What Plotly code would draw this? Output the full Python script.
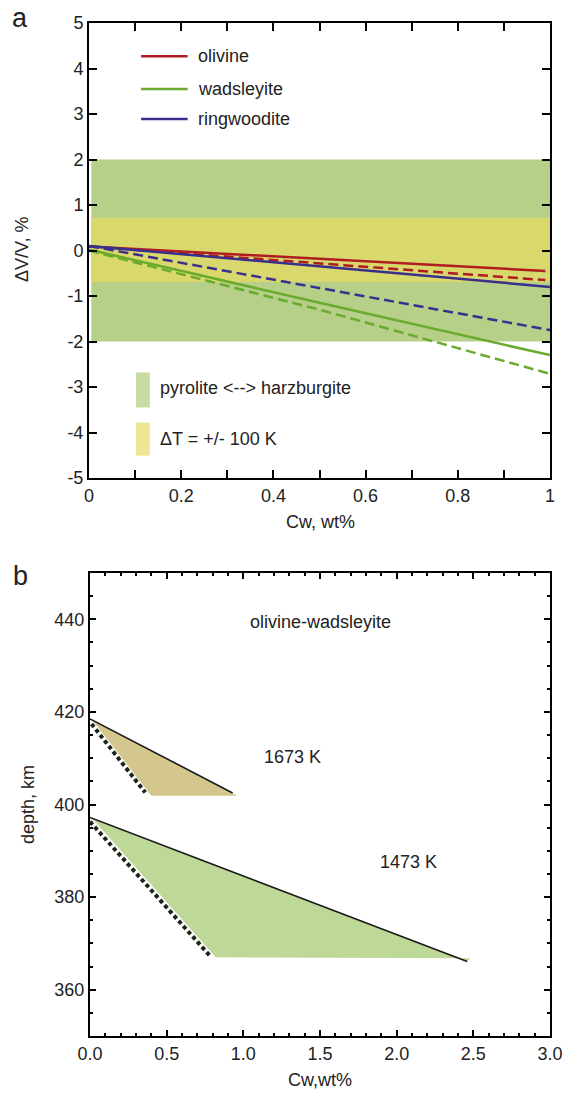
import plotly.graph_objects as go

# ---------------- Panel a data ----------------
cw_olivine = [0.0, 0.5, 0.99]
cw_other = [0.0, 0.5, 1.0]
olivine_solid = [0.09, -0.18, -0.45]
olivine_dash = [0.09, -0.28, -0.65]
wads_solid = [0.02, -1.15, -2.30]
wads_dash = [0.0, -1.30, -2.71]
ring_solid = [0.10, -0.35, -0.80]
ring_dash = [0.10, -0.83, -1.75]

band_pyrolite = [-2.0, 2.0]
band_deltaT = [-0.69, 0.72]

a_xticks = [0.0, 0.1, 0.2, 0.3, 0.4, 0.5, 0.6, 0.7, 0.8, 0.9, 1.0]
a_xticklabels = ["0", "", "0.2", "", "0.4", "", "0.6", "", "0.8", "", "1"]
a_yticks = [5, 4, 3, 2, 1, 0, -1, -2, -3, -4, -5]
a_yticklabels = ["5", "4", "3", "2", "1", "0", "-1", "-2", "-3", "-4", "-5"]

# ---------------- Panel b data ----------------
# 1673 K region
hot_fill_cw = [0.0, 0.93, 0.96, 0.40, 0.03]
hot_fill_depth = [418.5, 402.5, 401.9, 401.9, 417.6]
hot_solid_cw = [0.0, 0.93]
hot_solid_depth = [418.5, 402.5]
hot_dot_cw = [0.01, 0.36]
hot_dot_depth = [417.4, 402.6]
# 1473 K region
cold_fill_cw = [0.0, 2.46, 2.48, 0.82, 0.03]
cold_fill_depth = [397.2, 366.1, 366.8, 367.0, 396.4]
cold_solid_cw = [0.0, 2.46]
cold_solid_depth = [397.2, 366.1]
cold_dot_cw = [0.0, 0.78]
cold_dot_depth = [396.3, 367.4]

b_xticks = [0.0, 0.5, 1.0, 1.5, 2.0, 2.5, 3.0]
b_xticklabels = ["0.0", "0.5", "1.0", "1.5", "2.0", "2.5", "3.0"]
b_yticks = [360, 380, 400, 420, 440]
b_yticklabels = ["360", "380", "400", "420", "440"]

# ---------------- styling ----------------
W, H = 565, 1094
OFF = 0
FONT = "Liberation Sans, Arial, sans-serif"
FS = 18
TXT = "#222222"
RED = "#b01c22"
GREEN = "#6aaa2c"
PURPLE = "#3a2f8c"
BAND_GREEN = "#b6d08a"
BAND_YELLOW = "#d8d86c"
SW_GREEN = "#c6dca3"
SW_YELLOW = "#ede795"
HOT_FILL = "#d3c78e"
COLD_FILL = "#bed897"
DOTCOL = "#1e2418"
DASH = "10px,5px"


def px_x(p):
    return (p - OFF) / W


def px_y(p):
    return 1 - (p - OFF) / H


fig = go.Figure()

# panel a lines
series = [
    (cw_olivine, olivine_solid, RED, "solid"),
    (cw_olivine, olivine_dash, RED, DASH),
    (cw_other, wads_solid, GREEN, "solid"),
    (cw_other, wads_dash, GREEN, DASH),
    (cw_other, ring_solid, PURPLE, "solid"),
    (cw_other, ring_dash, PURPLE, DASH),
]
for xs, ys, col, dash in series:
    fig.add_trace(go.Scatter(x=xs, y=ys, mode="lines", xaxis="x", yaxis="y",
                             line=dict(color=col, width=2.5, dash=dash),
                             showlegend=False, hoverinfo="skip"))

# panel b fills and lines
for fx, fy, col in [(hot_fill_cw, hot_fill_depth, HOT_FILL),
                    (cold_fill_cw, cold_fill_depth, COLD_FILL)]:
    fig.add_trace(go.Scatter(x=fx + [fx[0]], y=fy + [fy[0]], mode="lines",
                             fill="toself", fillcolor=col,
                             line=dict(width=0, color=col),
                             xaxis="x2", yaxis="y2", showlegend=False,
                             hoverinfo="skip"))
for sx, sy in [(hot_solid_cw, hot_solid_depth), (cold_solid_cw, cold_solid_depth)]:
    fig.add_trace(go.Scatter(x=sx, y=sy, mode="lines",
                             line=dict(color="#1a1a1a", width=1.6),
                             xaxis="x2", yaxis="y2", showlegend=False,
                             hoverinfo="skip"))
for dx, dy in [(hot_dot_cw, hot_dot_depth), (cold_dot_cw, cold_dot_depth)]:
    fig.add_trace(go.Scatter(x=dx, y=dy, mode="lines",
                             line=dict(color=DOTCOL, width=4, dash="4px,3px"),
                             xaxis="x2", yaxis="y2", showlegend=False,
                             hoverinfo="skip"))

shapes = []
# bands (panel a)
shapes.append(dict(type="rect", xref="x", yref="y", x0=0.005, x1=1.0,
                   y0=band_pyrolite[0], y1=band_pyrolite[1],
                   fillcolor=BAND_GREEN, line=dict(width=0), layer="below"))
shapes.append(dict(type="rect", xref="x", yref="y", x0=0.005, x1=1.0,
                   y0=band_deltaT[0], y1=band_deltaT[1],
                   fillcolor=BAND_YELLOW, line=dict(width=0), layer="below"))

# legend lines (panel a)
leg = [("olivine", RED, 4.27), ("wadsleyite", GREEN, 3.55), ("ringwoodite", PURPLE, 2.89)]
annotations = []
for name, col, yy in leg:
    shapes.append(dict(type="line", xref="x", yref="y", x0=0.113, x1=0.214,
                       y0=yy, y1=yy, line=dict(color=col, width=2.5)))
    annotations.append(dict(x=0.233, y=yy, xref="x", yref="y", text=name,
                            showarrow=False, xanchor="left", yanchor="middle",
                            font=dict(size=FS, color=TXT, family=FONT)))

# swatch legend (panel a)
shapes.append(dict(type="rect", xref="x", yref="y", x0=0.102, x1=0.132,
                   y0=-3.45, y1=-2.68, fillcolor=SW_GREEN, line=dict(width=0)))
shapes.append(dict(type="rect", xref="x", yref="y", x0=0.102, x1=0.132,
                   y0=-4.51, y1=-3.78, fillcolor=SW_YELLOW, line=dict(width=0)))
annotations.append(dict(x=0.150, y=-3.02, xref="x", yref="y",
                        text="pyrolite <--> harzburgite", showarrow=False,
                        xanchor="left", yanchor="middle",
                        font=dict(size=FS, color=TXT, family=FONT)))
annotations.append(dict(x=0.150, y=-4.15, xref="x", yref="y",
                        text="\u0394T = +/- 100 K", showarrow=False,
                        xanchor="left", yanchor="middle",
                        font=dict(size=FS, color=TXT, family=FONT)))

# panel b labels
for txt, xx, yy in [("olivine-wadsleyite", 1.5, 439.4), ("1673 K", 1.32, 410.3),
                    ("1473 K", 2.08, 387.6)]:
    annotations.append(dict(x=xx, y=yy, xref="x2", yref="y2", text=txt,
                            showarrow=False, xanchor="center", yanchor="middle",
                            font=dict(size=FS, color=TXT, family=FONT)))

# axis titles and panel letters
annotations += [
    dict(x=px_x(22), y=px_y(250), xref="paper", yref="paper", text="\u0394V/V, %",
         textangle=-90, showarrow=False, xanchor="center", yanchor="middle",
         font=dict(size=FS, color=TXT, family=FONT)),
    dict(x=px_x(320), y=px_y(522), xref="paper", yref="paper", text="Cw, wt%",
         showarrow=False, xanchor="center", yanchor="middle",
         font=dict(size=FS, color=TXT, family=FONT)),
    dict(x=px_x(28), y=px_y(805), xref="paper", yref="paper", text="depth, km",
         textangle=-90, showarrow=False, xanchor="center", yanchor="middle",
         font=dict(size=FS, color=TXT, family=FONT)),
    dict(x=px_x(320), y=px_y(1080), xref="paper", yref="paper", text="Cw,wt%",
         showarrow=False, xanchor="center", yanchor="middle",
         font=dict(size=FS, color=TXT, family=FONT)),
    dict(x=px_x(20), y=px_y(18), xref="paper", yref="paper", text="a",
         showarrow=False, xanchor="center", yanchor="middle",
         font=dict(size=27, color=TXT, family=FONT)),
    dict(x=px_x(20), y=px_y(576), xref="paper", yref="paper", text="b",
         showarrow=False, xanchor="center", yanchor="middle",
         font=dict(size=27, color=TXT, family=FONT)),
]

axis_common = dict(showgrid=False, zeroline=False, showline=True, linecolor="black",
                   linewidth=2, mirror="ticks", ticks="inside", tickcolor="black",
                   automargin=False,
                   tickfont=dict(size=FS, color=TXT, family=FONT))

fig.update_layout(
    width=W, height=H,
    margin=dict(l=0, r=0, t=0, b=0, pad=0, autoexpand=False),
    paper_bgcolor="white", plot_bgcolor="white",
    shapes=shapes, annotations=annotations, showlegend=False,
    xaxis=dict(domain=[px_x(89), px_x(550)], range=[0, 1], anchor="y",
               tickmode="array", tickvals=a_xticks, ticktext=a_xticklabels,
               ticklen=8, tickwidth=2, **axis_common),
    yaxis=dict(domain=[px_y(478), px_y(23)], range=[-5, 5], anchor="x",
               tickmode="array", tickvals=a_yticks, ticktext=a_yticklabels,
               ticklen=8, tickwidth=2, **axis_common),
    xaxis2=dict(domain=[px_x(90), px_x(550)], range=[0, 3], anchor="y2",
                tickmode="array", tickvals=b_xticks, ticktext=b_xticklabels,
                ticklen=6, tickwidth=2,
                minor=dict(ticks="inside", ticklen=3, tickwidth=1.5,
                           tickcolor="black", dtick=0.1, showgrid=False),
                **axis_common),
    yaxis2=dict(domain=[px_y(1036), px_y(573)], range=[350, 450], anchor="x2",
                tickmode="array", tickvals=b_yticks, ticktext=b_yticklabels,
                ticklen=6, tickwidth=2,
                minor=dict(ticks="inside", ticklen=3, tickwidth=1.5,
                           tickcolor="black", dtick=5, showgrid=False),
                **axis_common),
)

fig.write_html("out.html", config={"displayModeBar": False},
               post_script="document.body.style.margin='0';document.body.style.overflow='hidden';")
